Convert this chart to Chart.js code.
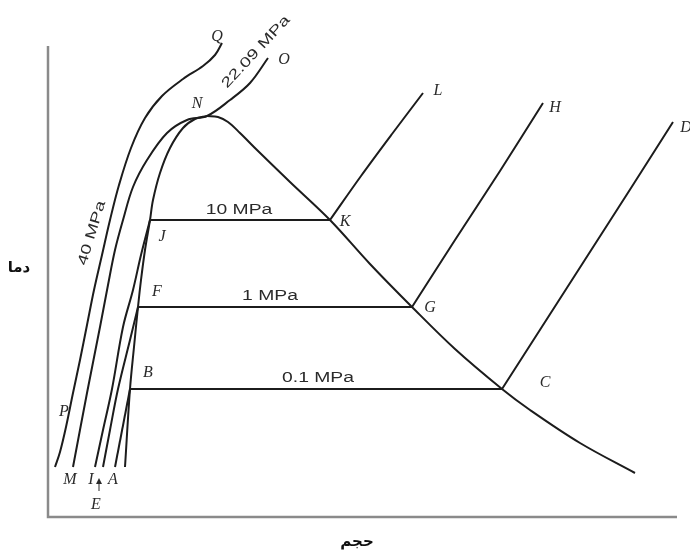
<!DOCTYPE html>
<html lang="fa">
<head>
<meta charset="utf-8">
<title>نمودار دما - حجم</title>
<script src="https://cdn.jsdelivr.net/npm/chart.js@4.4.1/dist/chart.umd.min.js"></script>
<style>
  html, body { margin: 0; padding: 0; background: #fff; }
  #wrap { width: 690px; height: 554px; }
</style>
</head>
<body>
<div id="wrap"><canvas id="chartTv" width="690" height="554"></canvas></div>
<script>
// ----------------------------------------------------
//  DADOS (volume v, temperatura T)
// ----------------------------------------------------
// linha de liquido saturado (N -> baixo)
const satLiqV = [159, 147, 135, 122, 112, 105, 102, 97, 93, 90, 86, 82, 77];
const satLiqT = [401, 398, 389, 369, 344, 317, 297, 267, 237, 210, 170, 128, 50];

// linha de vapor saturado (N -> direita)
const satVapV = [159, 170, 180, 192, 209, 242, 282, 322, 364, 407, 454, 482, 532, 587];
const satVapT = [401, 400, 395, 384, 367, 335, 297, 253, 210, 168, 128, 107, 74, 44];

// 40 MPa (P -> Q)
const p40V = [7, 12, 18, 25, 32, 39, 46, 54, 62, 71, 83, 97, 114, 135, 155, 167, 174];
const p40T = [50, 65, 90, 124, 157, 192, 227, 262, 297, 332, 369, 399, 421, 438, 451, 462, 474];

// 22.09 MPa (M -> N -> O)
const p2209V = [25, 39, 52, 60, 67, 75, 85, 99, 119, 139, 159, 182, 202, 220];
const p2209T = [50, 124, 190, 232, 267, 297, 330, 357, 384, 397, 401, 417, 434, 459];

// 10 MPa: I -> J (liquido) e K -> L (vapor)
const p10LiqV = [47, 55, 64, 75, 85, 93, 102];
const p10LiqT = [50, 87, 128, 190, 227, 262, 297];
const p10VapV = [282, 313, 344, 375];
const p10VapT = [297, 341, 383, 424];

// 1 MPa: E -> F e G -> H
const p1LiqV = [55, 62, 70, 82, 90];
const p1LiqT = [50, 87, 128, 177, 210];
const p1VapV = [364, 407, 452, 495];
const p1VapT = [210, 277, 346, 414];

// 0.1 MPa: A -> B e C -> D
const p01LiqV = [67, 72, 77, 82];
const p01LiqT = [50, 76, 102, 128];
const p01VapV = [454, 497, 540, 583, 625];
const p01VapT = [128, 195, 262, 329, 395];

// extensao dos eixos
const axisVMax = 629;
const axisTMax = 471;

// rotulos dos pontos
const letterNames = ['Q', 'O', 'N', 'L', 'H', 'D', 'K', 'G', 'C', 'J', 'F', 'B', 'P', 'M', 'I', 'A', 'E'];
const letterV = [169, 236, 149, 390, 507, 638, 297, 382, 497, 114, 109, 100, 16, 22, 43, 65, 48];
const letterT = [480, 457, 413, 426, 409, 389, 295, 209, 134, 280, 225, 144, 105, 37, 37, 37, 12];

// rotulos das pressoes
const pressNames = ['10 MPa', '1 MPa', '0.1 MPa', '22.09 MPa', '40 MPa'];
const pressV = [191, 222, 270, 208, 44];
const pressT = [307, 221, 139, 465, 284];
const pressAngle = [0, 0, 0, -47, -73];

const axisTitleY = 'دما';
const axisTitleX = 'حجم';

// ----------------------------------------------------
//  helpers
// ----------------------------------------------------
function pts(vs, ts) {
    return vs.map((v, i) => ({ x: v, y: ts[i] }));
}

function curva(vs, ts) {
    return { data: pts(vs, ts), tension: 0.35 };
}

// reta horizontal entre o fim do liquido e o inicio do vapor
function patamar(liqV, liqT, vapV, vapT) {
    return {
        data: [
            { x: liqV[liqV.length - 1], y: liqT[liqT.length - 1] },
            { x: vapV[0], y: vapT[0] }
        ],
        tension: 0
    };
}

const segmentos = [
    curva(satLiqV, satLiqT),
    curva(satVapV, satVapT),
    curva(p40V, p40T),
    curva(p2209V, p2209T),
    curva(p10LiqV, p10LiqT), patamar(p10LiqV, p10LiqT, p10VapV, p10VapT), curva(p10VapV, p10VapT),
    curva(p1LiqV, p1LiqT), patamar(p1LiqV, p1LiqT, p1VapV, p1VapT), curva(p1VapV, p1VapT),
    curva(p01LiqV, p01LiqT), patamar(p01LiqV, p01LiqT, p01VapV, p01VapT), curva(p01VapV, p01VapT)
];

const datasets = segmentos.map(s => ({
    data: s.data,
    tension: s.tension,
    showLine: true,
    borderColor: '#1c1c1c',
    borderWidth: 2,
    pointRadius: 0,
    clip: false
}));

// ----------------------------------------------------
//  plugin: eixos e textos
// ----------------------------------------------------
const eixosPlugin = {
    id: 'eixos',
    beforeDatasetsDraw(chart) {
        const { ctx, scales: { x, y } } = chart;
        ctx.save();
        ctx.strokeStyle = '#8a8a8a';
        ctx.lineWidth = 2.5;
        ctx.beginPath();
        ctx.moveTo(x.getPixelForValue(0), y.getPixelForValue(axisTMax));
        ctx.lineTo(x.getPixelForValue(0), y.getPixelForValue(0));
        ctx.lineTo(x.getPixelForValue(axisVMax), y.getPixelForValue(0));
        ctx.stroke();
        ctx.restore();
    },
    afterDatasetsDraw(chart) {
        const { ctx, scales: { x, y } } = chart;
        ctx.save();
        ctx.fillStyle = '#2a2a2a';
        ctx.textAlign = 'center';
        ctx.textBaseline = 'middle';

        // letras
        ctx.font = 'italic 16px "Liberation Serif", serif';
        letterNames.forEach((n, i) => {
            ctx.fillText(n, x.getPixelForValue(letterV[i]), y.getPixelForValue(letterT[i]));
        });

        // seta em E
        const ax = x.getPixelForValue(letterV[16] + 3);
        const ay = y.getPixelForValue(letterT[16] + 23);
        ctx.beginPath();
        ctx.moveTo(ax, ay - 4);
        ctx.lineTo(ax - 3, ay + 2);
        ctx.lineTo(ax + 3, ay + 2);
        ctx.closePath();
        ctx.fill();
        ctx.fillRect(ax - 0.5, ay + 2, 1, 7);

        // pressoes
        ctx.font = '14px "Liberation Sans", Arial, sans-serif';
        pressNames.forEach((n, i) => {
            ctx.save();
            ctx.translate(x.getPixelForValue(pressV[i]), y.getPixelForValue(pressT[i]));
            ctx.rotate(pressAngle[i] * Math.PI / 180);
            ctx.scale(1.38, 1);
            ctx.fillText(n, 0, 0);
            ctx.restore();
        });

        // titulos dos eixos
        ctx.fillStyle = '#111';
        ctx.direction = 'rtl';
        ctx.font = 'bold 15px "DejaVu Sans", sans-serif';
        ctx.fillText(axisTitleY, x.left - 29, (y.top + y.bottom) / 2 - 13);
        ctx.fillText(axisTitleX, (x.left + x.right) / 2 - 12, y.bottom + 25);
        ctx.restore();
    }
};

new Chart(document.getElementById('chartTv'), {
    type: 'scatter',
    data: { datasets: datasets },
    options: {
        responsive: false,
        animation: false,
        events: [],
        layout: { padding: { left: 48, top: 46, right: 0, bottom: 37 } },
        plugins: { legend: { display: false }, tooltip: { enabled: false } },
        scales: {
            x: { type: 'linear', min: 0, max: 642, display: false },
            y: { type: 'linear', min: 0, max: 471, display: false }
        }
    },
    plugins: [eixosPlugin]
});
</script>
</body>
</html>
